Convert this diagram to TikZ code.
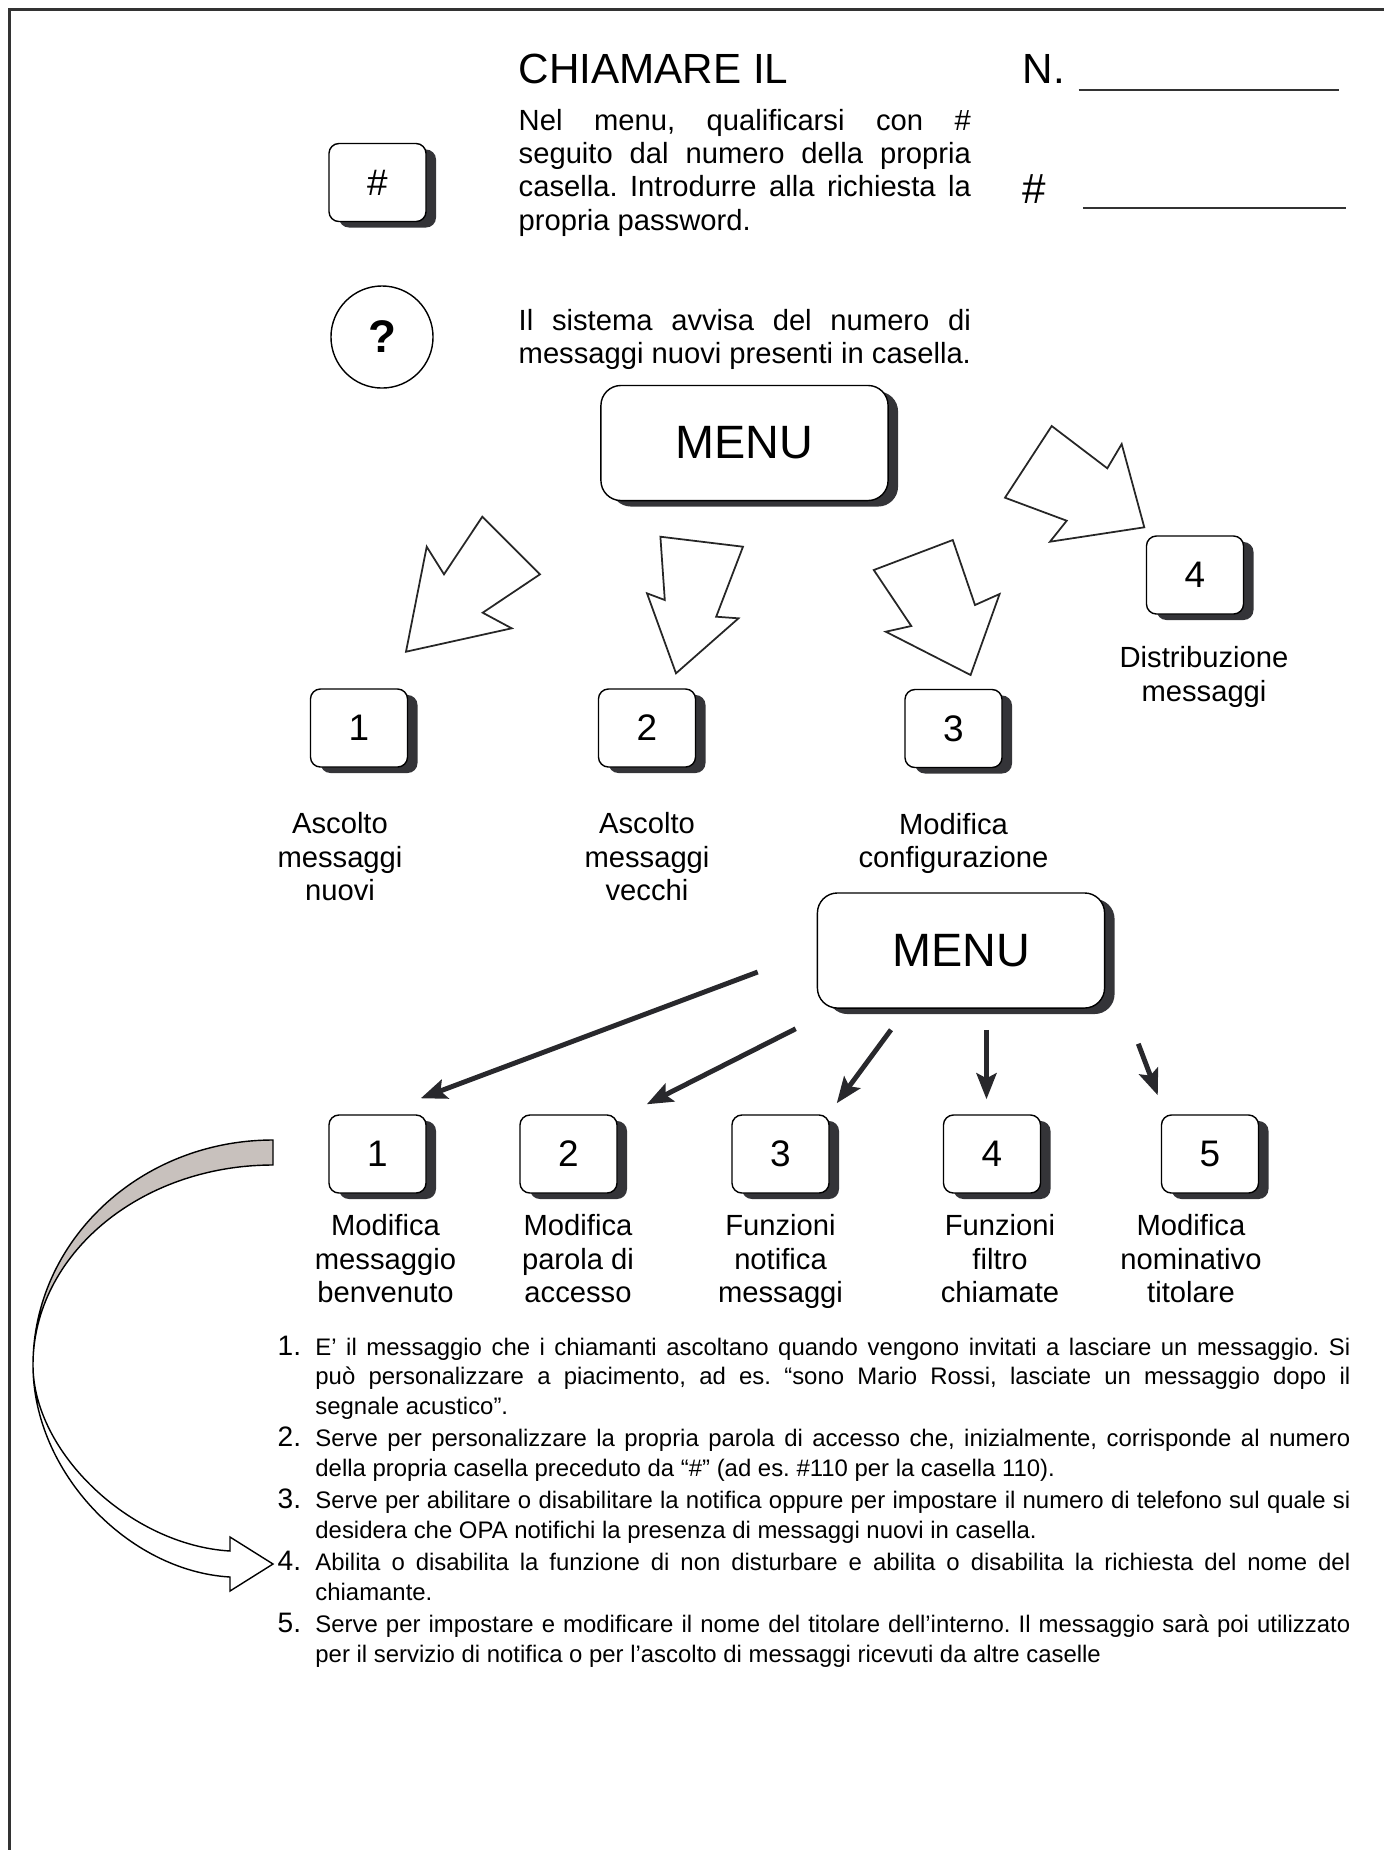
\documentclass[tikz,border=0pt]{standalone}
\usepackage{fontspec}
\setmainfont{Liberation Sans}
\usetikzlibrary{arrows.meta,calc,positioning,shadows}

\definecolor{keyshadow}{RGB}{52,52,56}
\definecolor{ribbon}{RGB}{200,193,189}
\definecolor{ink}{RGB}{40,40,44}

\newcommand{\titlefont}{\fontsize{12}{14}\selectfont}
\newcommand{\menufont}{\fontsize{13.3}{15}\selectfont}
\newcommand{\keyfont}{\fontsize{10.5}{12}\selectfont}
\newcommand{\labfont}{\fontsize{8.3}{9.5}\selectfont}
\newcommand{\parafont}{\fontsize{8.3}{9.4}\selectfont}
\newcommand{\notefont}{\fontsize{6.8}{8.5}\selectfont}
\newcommand{\numfont}{\fontsize{8}{8.5}\selectfont}
\newcommand{\noteitem}[2]{\noindent\hangindent=0.377cm\hangafter=1\makebox[0.377cm][l]{\numfont #1.}#2\par}
\frenchspacing

\begin{document}
\begin{tikzpicture}[
    x=0.01cm, y=-0.01cm,
    keybox/.style={draw, thin, rounded corners=0.1cm, fill=white,
                   minimum width=0.97cm, minimum height=0.78cm, inner sep=0pt, font=\keyfont,
                   drop shadow={shadow xshift=0.1cm, shadow yshift=-0.06cm, fill=keyshadow, opacity=1}},
    menubox/.style={keybox, rounded corners=0.2cm, minimum width=2.87cm, minimum height=1.15cm, font=\menufont},
    lbl/.style={align=center, font=\labfont, inner sep=0pt},
    para/.style={align=justify, text width=4.52cm, font=\parafont, inner sep=0pt, anchor=north west},
    blockarrow/.style={draw=black!85, fill=white, line width=0.5pt, line join=miter},
    menuarrow/.style={draw=ink, line width=1.4pt, -{Stealth[length=0.26cm, width=0.2cm, inset=0.05cm]}},
    ribbonline/.style={draw=black, line width=0.4pt}
]
\useasboundingbox (0,0) rectangle (1384,1850);

% frame
\draw[line width=0.75pt, black!80] (9.7,1850) -- (9.7,9.7) -- (1384,9.7);

% 1) header
\node[anchor=base west, font=\titlefont, inner sep=0pt] (title) at (518,83) {CHIAMARE IL};
\node[anchor=base west, font=\titlefont, inner sep=0pt] (numlab) at (1022,83) {N.};
\draw[line width=0.6pt, black!80] ($(numlab.base east)+(13,7)$) -- ++(260,0);
\node[anchor=base west, font=\titlefont, inner sep=0pt] (hashlab) at (1022,203) {\#};
\draw[line width=0.6pt, black!80] ($(hashlab.base east)+(36,5)$) -- ++(263,0);

% 2) login and notice
\node[keybox] (hash) at (377.5,182.5) {\#};
\node[para] (intro) at (518,109) {\hyphenpenalty=10000 Nel menu, qualificarsi con \#\linebreak seguito dal numero della propria\linebreak casella. Introdurre alla richiesta la\linebreak propria password.};
\node[draw, thin, circle, minimum size=1.02cm, inner sep=0pt, font=\fontsize{13}{15}\selectfont\bfseries] (ask) at (382,337) {?};
\node[para] (notice) at (518,309) {Il sistema avvisa del numero di\linebreak messaggi nuovi presenti in casella.};

% 3) main menu
\node[menubox] (menu) at (744.5,443) {MENU};

\node[keybox] (k1) at (359,728) {1};
\node[keybox] (k2) at (647,728) {2};
\node[keybox] (k3) at (953.5,728.5) {3};
\node[keybox] (k4) at (1195,575) {4};

\node[lbl, below=0.44cm of k1, xshift=-0.19cm] (l1) {Ascolto\\messaggi\\nuovi};
\node[lbl, below=0.44cm of k2] (l2) {Ascolto\\messaggi\\vecchi};
\node[lbl, below=0.44cm of k3] (l3) {Modifica\\configurazione};
\node[lbl, below=0.31cm of k4, xshift=0.09cm] (l4) {Distribuzione\\messaggi};

% block arrows
\draw[blockarrow] (482.3,516.7) -- (540,574.3) -- (482.7,612.7) -- (511.7,628.3) -- (406,651.7) -- (426.7,546.7) -- (444,574.3) -- cycle;
\draw[blockarrow] (660.4,536.7) -- (743,546.7) -- (716.2,616.7) -- (738.5,618.3) -- (676,673.3) -- (647,593.3) -- (664.8,600) -- cycle;
\draw[blockarrow] (873.8,570) -- (952.8,540) -- (975,605) -- (999.6,594) -- (970.6,675) -- (885.8,631.7) -- (911.3,626) -- cycle;
\draw[blockarrow] (1051.7,426) -- (1107.3,468.3) -- (1121.7,444) -- (1144.3,527.3) -- (1050,541.7) -- (1066.7,520.7) -- (1005,497.7) -- cycle;

% 4) configuration menu
\node[menubox] (menu2) at (961,950.5) {MENU};

\node[keybox] (m1) at (377.5,1154) {1};
\node[keybox] (m2) at (568.5,1154) {2};
\node[keybox] (m3) at (780.5,1154) {3};
\node[keybox] (m4) at (992,1154) {4};
\node[keybox] (m5) at (1210,1154) {5};

\node[lbl, below=0.2cm of m1, xshift=0.08cm] (n1) {Modifica\\messaggio\\benvenuto};
\node[lbl, below=0.2cm of m2, xshift=0.095cm] (n2) {Modifica\\parola di\\accesso};
\node[lbl, below=0.2cm of m3] (n3) {Funzioni\\notifica\\messaggi};
\node[lbl, below=0.2cm of m4, xshift=0.08cm] (n4) {Funzioni\\filtro\\chiamate};
\node[lbl, below=0.2cm of m5, xshift=-0.19cm] (n5) {Modifica\\nominativo\\titolare};

\draw[menuarrow] ($(menu2.west)+(-59,21.5)$) -- ($(m1.north east)+(-6,-16)$);
\draw[menuarrow] ($(menu2.south west)+(-21,20)$) -- ($(m2.north east)+(29,-10)$);
\draw[menuarrow] ($(menu2.south)+(-70,21)$) -- ($(m3.north east)+(7,-11)$);
\draw[menuarrow] ($(menu2.south)+(25.5,21)$) -- ($(m4.north)+(-5.5,-15)$);
\draw[menuarrow] ($(menu2.south east)+(33,35)$) -- ($(m5.north west)+(-3,-19)$);

% 5) notes
\node[anchor=north west, text width=10.72cm, align=justify, inner sep=0pt, font=\notefont] (notes) at (277,1335) {%
\hyphenpenalty=10000 \tolerance=9999 \setlength{\parskip}{0.6pt}%
\noteitem{1}{E’ il messaggio che i chiamanti ascoltano quando vengono invitati a lasciare un messaggio. Si\linebreak può personalizzare a piacimento, ad es. “sono Mario Rossi, lasciate un messaggio dopo il\linebreak segnale acustico”.}%
\noteitem{2}{Serve per personalizzare la propria parola di accesso che, inizialmente, corrisponde al numero\linebreak della propria casella preceduto da “\#” (ad es. \#110 per la casella 110).}%
\noteitem{3}{Serve per abilitare o disabilitare la notifica oppure per impostare il numero di telefono sul quale si\linebreak desidera che OPA notifichi la presenza di messaggi nuovi in casella.}%
\noteitem{4}{Abilita o disabilita la funzione di non disturbare e abilita o disabilita la richiesta del nome del\linebreak chiamante.}%
\noteitem{5}{Serve per impostare e modificare il nome del titolare dell’interno. Il messaggio sarà poi utilizzato\linebreak per il servizio di notifica o per l’ascolto di messaggi ricevuti da altre caselle}};

% curved ribbon arrow to item 4
\coordinate (rbtop) at (273,1140);
\coordinate (rbbot) at (273,1165);
\coordinate (rbleft) at (33,1365);
\coordinate (rbtip) at (273,1564);
\draw[ribbonline, fill=ribbon] (rbtop) .. controls (140,1140) and (33,1241) .. (rbleft)
    .. controls (33,1255) and (140,1165) .. (rbbot) -- cycle;
\draw[ribbonline, fill=white] (rbleft) .. controls (33,1472) and (128,1571) .. (230,1577)
    -- (230,1591) -- (rbtip) -- (230,1537) -- (230,1551)
    .. controls (130,1545) and (33,1452) .. (rbleft) -- cycle;
\end{tikzpicture}
\end{document}
